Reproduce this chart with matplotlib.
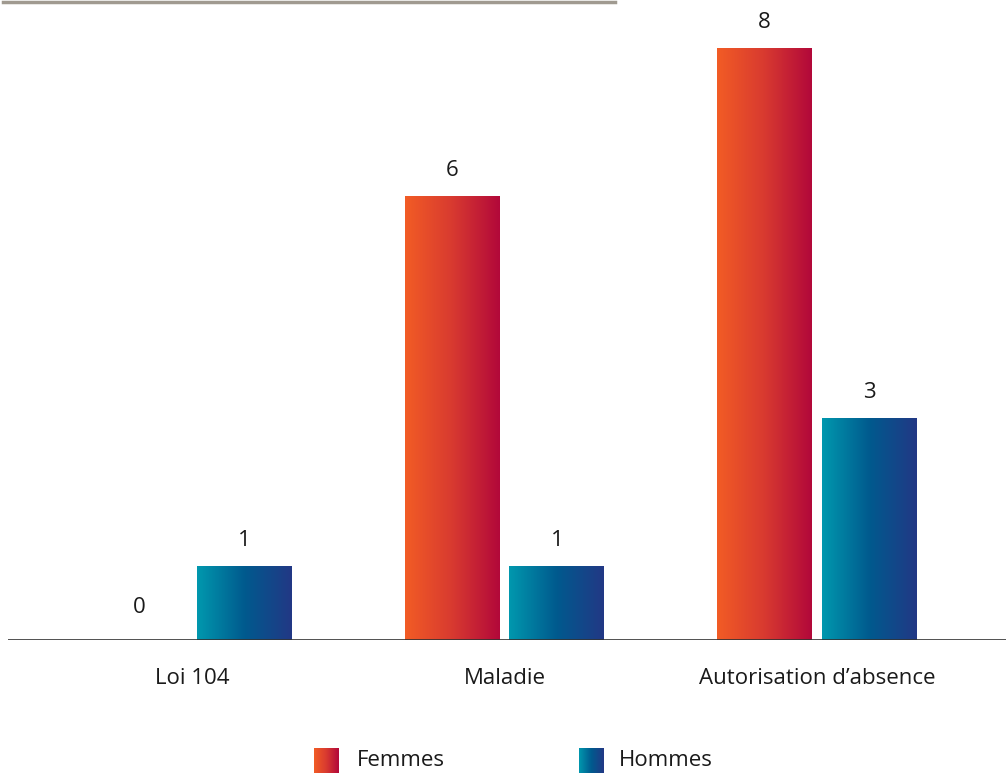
import numpy as np
import matplotlib
matplotlib.use("Agg")
import matplotlib.pyplot as plt
from matplotlib.colors import LinearSegmentedColormap
from matplotlib.patches import Rectangle

categories = ["Loi 104", "Maladie", "Autorisation d\u2019absence"]
series_names = ["Femmes", "Hommes"]
femmes = [0, 6, 8]
hommes = [1, 1, 3]

plt.rcParams["font.family"] = ["Open Sans", "DejaVu Sans"]

cmap_f = LinearSegmentedColormap.from_list("femmes", ["#F25C25", "#D83A30", "#B2083A"])
cmap_h = LinearSegmentedColormap.from_list("hommes", ["#0098AE", "#005A8E", "#223885"])

W, H = 1006, 773
fig = plt.figure(figsize=(W / 100, H / 100), dpi=100)

ax_left, ax_right = 8, 1006
ax_bottom_px, ax_top_px = 640, 3.6
ax = fig.add_axes([ax_left / W, 1 - ax_bottom_px / H,
                   (ax_right - ax_left) / W, (ax_bottom_px - ax_top_px) / H])

x = np.arange(len(categories))
bar_w = 0.304
offset = 0.168
ax.set_xlim(-0.589, 2.605)
ax.set_ylim(0, 8.6)

grad = np.linspace(0, 1, 256).reshape(1, -1)
txt_color = "#1a1a1a"
fs = 16


def gradient_bar(axis, xc, h, cmap):
    if h <= 0:
        return
    x0, x1 = xc - bar_w / 2, xc + bar_w / 2
    im = axis.imshow(grad, cmap=cmap, aspect="auto", extent=[x0, x1, 0, h],
                     interpolation="bicubic", zorder=2)
    clip = Rectangle((x0, 0), bar_w, h, transform=axis.transData)
    im.set_clip_path(clip)


for i in range(len(categories)):
    xf = x[i] - offset
    xh = x[i] + offset
    gradient_bar(ax, xf, femmes[i], cmap_f)
    gradient_bar(ax, xh, hommes[i], cmap_h)
    ax.text(xf, femmes[i] + (0.3 if femmes[i] == 0 else 0.2), str(femmes[i]),
            ha="center", va="bottom", fontsize=fs, color=txt_color)
    ax.text(xh, hommes[i] + 0.2, str(hommes[i]),
            ha="center", va="bottom", fontsize=fs, color=txt_color)

ax.set_xlim(-0.589, 2.605)
ax.set_ylim(0, 8.6)
for s in ax.spines.values():
    s.set_visible(False)
ax.axhline(0, color="#333333", lw=1.2, zorder=3)
ax.set_yticks([])
ax.set_xticks(x)
ax.set_xticklabels(categories, fontsize=fs, color=txt_color)
ax.tick_params(axis="x", length=0, pad=20)

# Decorative rule along the top edge
fig.add_artist(plt.Line2D([3 / W, 615 / W], [1 - 1.5 / H, 1 - 1.5 / H],
                          color="#A09A90", lw=2.5))

# Legend with gradient swatches
legend_items = [(314, cmap_f, 357), (579, cmap_h, 619)]
for (sx, cm, tx), name in zip(legend_items, series_names):
    sax = fig.add_axes([sx / W, 1 - 773 / H, 25 / W, 25 / H])
    sax.imshow(grad, cmap=cm, aspect="auto", interpolation="bicubic")
    sax.axis("off")
    fig.text(tx / W, 1 - 761 / H, name, fontsize=fs, color=txt_color,
             ha="left", va="center")

fig.savefig("out.png", dpi=100)
